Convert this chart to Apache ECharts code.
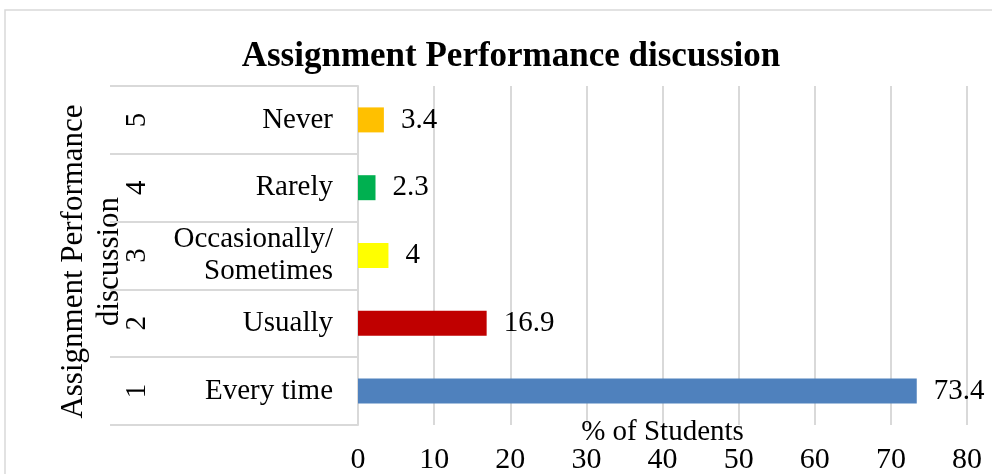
<!DOCTYPE html>
<html><head><meta charset="utf-8">
<script src="https://cdn.jsdelivr.net/npm/echarts@6/dist/echarts.min.js"></script>
<style>html,body{margin:0;padding:0;background:#fff}#c{width:992px;height:474px}</style>
</head><body><div id="c"></div>
<script>
const categories = ['Every time', 'Usually', 'Occasionally/\nSometimes', 'Rarely', 'Never'];
const codes = ['1', '2', '3', '4', '5'];
const values = [73.4, 16.9, 4, 2.3, 3.4];
const colors = ['#4F81BD', '#C00000', '#FFFF00', '#00B050', '#FFC000'];
const xTicks = { min: 0, max: 80, interval: 10 };
const titleText = 'Assignment Performance discussion';
const yName = 'Assignment Performance\ndiscussion';
const xName = '% of Students';

const F = 'Liberation Serif, Times New Roman, serif';
const chart = echarts.init(document.getElementById('c'));
chart.setOption({
  backgroundColor: '#fff',
  animation: false,
  title: { text: titleText, left: 506, textAlign: 'center', top: 34,
    textStyle: { fontFamily: F, fontSize: 35, fontWeight: 'bold', color: '#000' } },
  graphic: [{ type: 'rect', shape: { x: 5, y: 10, width: 1000, height: 480 },
    style: { fill: 'none', stroke: '#d9d9d9', lineWidth: 1.5 }, silent: true }],
  grid: { left: 358, right: 25, top: 86, bottom: 49, outerBoundsMode: 'none', containLabel: false },
  xAxis: {
    type: 'value', min: xTicks.min, max: xTicks.max, interval: xTicks.interval,
    name: xName, nameLocation: 'middle', nameGap: 7, nameMoveOverlap: false,
    nameTextStyle: { fontFamily: F, fontSize: 29, color: '#000', verticalAlign: 'middle' },
    axisLine: { show: false }, axisTick: { show: false },
    axisLabel: { fontFamily: F, fontSize: 30, color: '#000', margin: 20 },
    splitLine: { lineStyle: { color: '#d9d9d9', width: 2 } }
  },
  yAxis: [{
    type: 'category', data: categories, position: 'left',
    name: yName, nameLocation: 'middle', nameRotate: 90, nameGap: 230, nameMoveOverlap: false,
    nameTextStyle: { fontFamily: F, fontSize: 31, color: '#000', lineHeight: 36, padding: [0, 12, 0, 0] },
    axisLine: { show: true, lineStyle: { color: '#d9d9d9', width: 2 } },
    axisTick: { show: true, length: 248, lineStyle: { color: '#d9d9d9', width: 2 } },
    axisLabel: { fontFamily: F, fontSize: 29, color: '#000', margin: 25, lineHeight: 32 }
  }, {
    type: 'category', data: codes, position: 'left', offset: 0,
    axisLine: { show: false }, axisTick: { show: false },
    axisLabel: { fontFamily: F, fontSize: 29, color: '#000', rotate: 90, margin: 206 }
  }],
  series: [{
    type: 'bar', yAxisIndex: 0, barWidth: 25,
    data: values.map((v, i) => ({ value: v, itemStyle: { color: colors[i] } })),
    label: { show: true, position: 'right', distance: 17, fontFamily: F, fontSize: 29, color: '#000' }
  }]
});
</script></body></html>
